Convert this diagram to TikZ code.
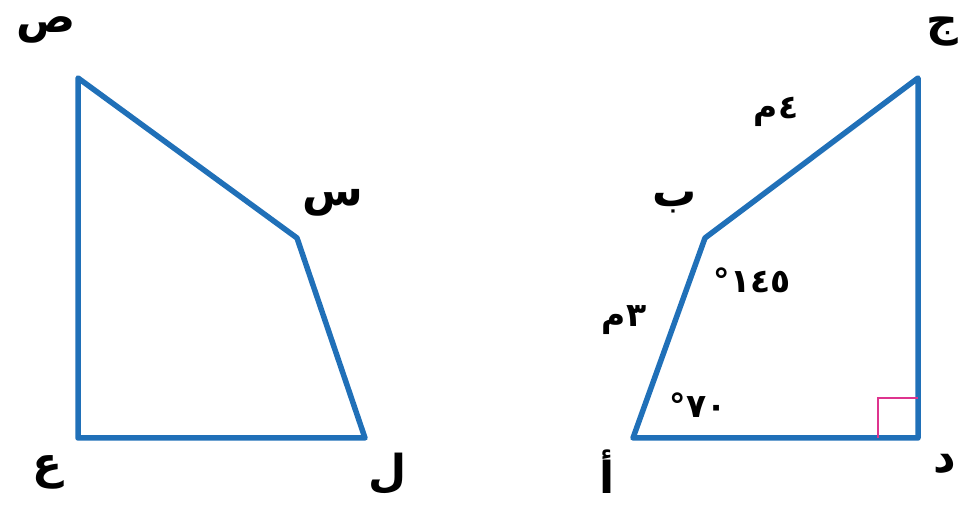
\documentclass[tikz,border=0pt]{standalone}
\usepackage{fontspec}
\newfontfamily\arabicfont[Script=Arabic]{DejaVu Sans}
\TeXXeTstate=1
\usepackage{tikz}
\usetikzlibrary{calc,positioning}

\definecolor{edgeblue}{RGB}{32,112,184}
\definecolor{anglepink}{RGB}{222,52,142}

\begin{document}
\begin{tikzpicture}[
    x=1pt, y=1pt,
    quadline/.style={draw=edgeblue, line width=5.5pt, line join=round},
    rightangle/.style={draw=anglepink, line width=2.2pt},
    vertex/.style={font=\arabicfont\bfseries\fontsize{44}{48}\selectfont, inner sep=0pt},
    measure/.style={font=\arabicfont\bfseries\fontsize{33}{36}\selectfont, inner sep=0pt},
]
\useasboundingbox (0,0) rectangle (959,514);

% Left quadrilateral
\coordinate (S) at (78,436);
\coordinate (Sin) at (297,276);
\coordinate (L) at (365,76);
\coordinate (E) at (78,76);
\draw[quadline] (S) -- (Sin) -- (L) -- (E) -- cycle;

\node[vertex] (labS) at (46,484) {\beginR ص\endR};
\node[vertex] (labSin) at (333,311) {\beginR س\endR};
\node[vertex] (labE) at (48,42) {\beginR ع\endR};
\node[vertex] (labL) at (388,40) {\beginR ل\endR};

% Right quadrilateral
\coordinate (J) at (918,436);
\coordinate (B) at (705,276);
\coordinate (A) at (633,76);
\coordinate (D) at (918,76);
\draw[quadline] (J) -- (B) -- (A) -- (D) -- cycle;

% right angle mark at D
\draw[rightangle] ($(D)+(-40,0)$) |- ($(D)+(0,40)$);

\node[vertex] (labJ) at (942,482) {\beginR ج\endR};
\node[vertex] (labB) at (675,311) {\beginR ب\endR};
\node[vertex] (labA) at (607,42) {\beginR أ\endR};
\node[vertex] (labD) at (945,50) {\beginR د\endR};

% lengths and angles
\node[measure] (lenBJ) at (776,402) {\beginR ٤م\endR};
\node[measure] (lenAB) at (624,194) {\beginR ٣م\endR};
\node[measure] (angB) at (752,234) {\beginR ١٤٥°\endR};
\node[measure] (angA) at (698,109) {\beginR ٧٠°\endR};

\end{tikzpicture}
\end{document}
